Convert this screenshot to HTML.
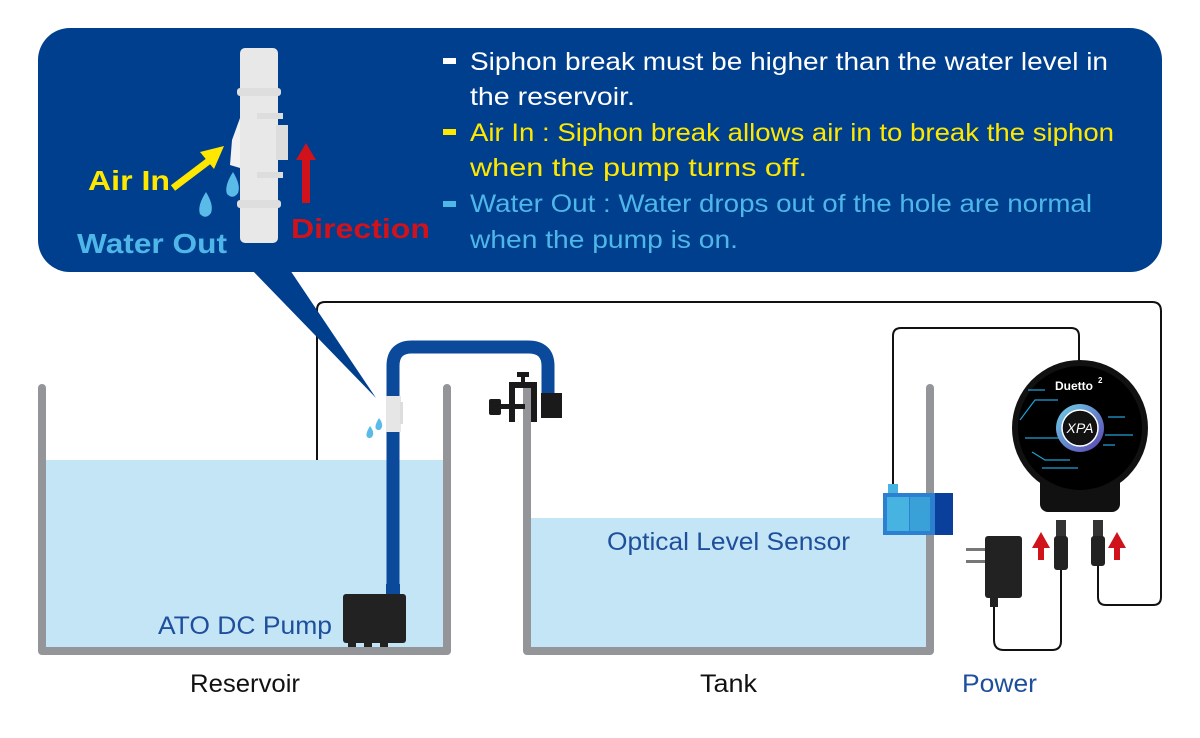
<!DOCTYPE html>
<html><head><meta charset="utf-8"><style>html,body{margin:0;padding:0;background:#fff}svg{display:block}text{font-family:"Liberation Sans",sans-serif}</style></head>
<body>
<svg width="1200" height="738" viewBox="0 0 1200 738" xmlns="http://www.w3.org/2000/svg">
<defs><linearGradient id="ring" x1="0" y1="0" x2="1" y2="1"><stop offset="0" stop-color="#6fd3e8"/><stop offset="1" stop-color="#5a3fb0"/></linearGradient></defs>
<!-- wires -->
<path d="M343,603 H325 Q317,603 317,595 V310 Q317,302 325,302 H1152 Q1161,302 1161,311 V597 Q1161,605 1153,605 H1106 Q1098,605 1098,597 V560" fill="none" stroke="#111" stroke-width="2"/>
<path d="M893,488 V336 Q893,328 901,328 H1071 Q1079,328 1079,336 V362" fill="none" stroke="#111" stroke-width="2"/>
<path d="M994,600 V640 Q994,650 1004,650 H1052 Q1061,650 1061,641 V568" fill="none" stroke="#111" stroke-width="2"/>
<!-- water -->
<rect x="46" y="460" width="397" height="188" fill="#c4e5f5"/>
<rect x="531" y="518" width="395" height="130" fill="#c4e5f5"/>
<!-- tank walls -->
<path d="M42,388 V651 H447 V388" fill="none" stroke="#939598" stroke-width="8" stroke-linecap="round" stroke-linejoin="round"/>
<path d="M527,388 V651 H930 V388" fill="none" stroke="#939598" stroke-width="8" stroke-linecap="round" stroke-linejoin="round"/>
<!-- hose -->
<path d="M393,592 V366 Q393,347 412,347 H528 Q548,347 548,366 V418" fill="none" stroke="#0b4a9b" stroke-width="13"/>
<rect x="386" y="584" width="14" height="12" fill="#0b4a9b"/>
<rect x="386" y="396" width="15" height="36" fill="#e6e6e6"/>
<rect x="400" y="402" width="3" height="22" fill="#ddd"/>
<path d="M370,426 q-5,8 -3,11 q4,3 6,-2 q1,-4 -3,-9z M379,418 q-5,8 -3,11 q4,3 6,-2 q1,-4 -3,-9z" fill="#5bbbe8"/>
<!-- clamp -->
<path d="M509,382 h28 v40 h-6 v-34 h-16 v34 h-6z" fill="#1a1a1a"/>
<rect x="517" y="372" width="12" height="5" fill="#1a1a1a"/><rect x="521" y="375" width="4" height="8" fill="#1a1a1a"/>
<rect x="489" y="399" width="12" height="16" rx="2" fill="#1a1a1a"/><rect x="500" y="404" width="25" height="5" fill="#1a1a1a"/>
<rect x="541" y="393" width="21" height="25" fill="#1a1a1a"/>
<!-- pump -->
<rect x="343" y="594" width="63" height="49" rx="3" fill="#222"/>
<rect x="348" y="643" width="8" height="4" fill="#222"/><rect x="364" y="643" width="8" height="4" fill="#222"/><rect x="380" y="643" width="8" height="4" fill="#222"/>
<!-- sensor -->
<rect x="935" y="493" width="18" height="42" fill="#0b3f9c"/>
<rect x="883" y="493" width="52" height="42" fill="#2d7fd0"/>
<rect x="887" y="497" width="22" height="34" fill="#46b3e0"/>
<rect x="910" y="497" width="20" height="34" fill="#3aa0d8"/>
<rect x="888" y="484" width="10" height="9" fill="#46b3e0"/>
<!-- controller -->
<rect x="1040" y="470" width="80" height="42" rx="8" fill="#111"/>
<circle cx="1080" cy="428" r="68" fill="#111"/>
<circle cx="1080" cy="428" r="62" fill="#000"/>
<g stroke="#1f9fd8" stroke-width="1.2" fill="none">
<path d="M1028,390 H1045 M1020,420 L1035,400 H1058 M1025,438 H1060 M1032,452 L1045,460 H1070 M1042,468 H1078 M1108,417 H1125 M1105,435 H1133 M1103,445 H1115"/>
</g>
<circle cx="1080" cy="428" r="24" fill="url(#ring)"/><circle cx="1080" cy="428" r="18" fill="#111" stroke="#fff" stroke-width="1.5"/>
<text x="1080" y="433" font-size="14" fill="#fff" text-anchor="middle" font-style="italic">XPA</text>
<text x="1055" y="390" font-size="12" font-weight="bold" fill="#fff">Duetto</text><text x="1098" y="383" font-size="8" fill="#fff" font-weight="bold">2</text>
<!-- adapter -->
<rect x="985" y="536" width="37" height="62" rx="3" fill="#222"/>
<rect x="966" y="548" width="19" height="3" fill="#777"/><rect x="966" y="560" width="19" height="3" fill="#777"/>
<rect x="990" y="597" width="8" height="10" fill="#222"/>
<rect x="1056" y="520" width="10" height="18" fill="#333"/><rect x="1054" y="536" width="14" height="34" rx="3" fill="#222"/>
<rect x="1093" y="520" width="10" height="18" fill="#333"/><rect x="1091" y="536" width="14" height="30" rx="3" fill="#222"/>
<path d="M1038,548 h-6 l9,-16 l9,16 h-6 v12 h-6z M1114,548 h-6 l9,-16 l9,16 h-6 v12 h-6z" fill="#d0121b"/>
<!-- bubble -->
<rect x="38" y="28" width="1124" height="244" rx="32" fill="#003e8e"/>
<path d="M252,270 L290,270 L376,398 Z" fill="#003e8e"/>
<!-- siphon piece -->
<rect x="240" y="48" width="38" height="195" rx="5" fill="#e8e8e8"/>
<rect x="237" y="88" width="44" height="8" rx="3" fill="#dedede"/>
<rect x="237" y="200" width="44" height="8" rx="3" fill="#dedede"/>
<rect x="257" y="113" width="26" height="6" fill="#ddd"/><rect x="257" y="172" width="26" height="6" fill="#ddd"/>
<rect x="276" y="125" width="12" height="35" fill="#ddd"/>
<path d="M240,118 L232,140 L230,165 L240,168 Z" fill="#f2f2f2"/>
<line x1="173" y1="188" x2="210" y2="160" stroke="#ffe800" stroke-width="7"/>
<path d="M200,152 L224,146 L214,169 Z" fill="#ffe800"/>
<path d="M233,172 q-9,14 -6,22 q6,6 11,-1 q3,-8 -5,-21z M206,192 q-9,14 -6,22 q6,6 11,-1 q3,-8 -5,-21z" fill="#5bbbe8"/>
<path d="M296,160 l10,-17 l10,17 h-6 v43 h-8 v-43z" fill="#d0121b"/>
<text x="88" y="190" font-size="28" font-weight="bold" fill="#ffe800" textLength="82" lengthAdjust="spacingAndGlyphs">Air In</text>
<text x="77" y="253" font-size="28" font-weight="bold" fill="#4fb7e8" textLength="150" lengthAdjust="spacingAndGlyphs">Water Out</text>
<text x="291" y="238" font-size="28" font-weight="bold" fill="#d0121b" textLength="139" lengthAdjust="spacingAndGlyphs">Direction</text>
<!-- bubble text -->
<rect x="443" y="58" width="13" height="6" fill="#fff"/>
<rect x="443" y="129" width="13" height="6" fill="#ffe800"/>
<rect x="443" y="201" width="13" height="6" fill="#4fb7e8"/>
<g font-size="25">
<text x="470" y="70" fill="#fff" textLength="638" lengthAdjust="spacingAndGlyphs">Siphon break must be higher than the water level in</text>
<text x="470" y="105" fill="#fff" textLength="165" lengthAdjust="spacingAndGlyphs">the reservoir.</text>
<text x="470" y="141" fill="#ffe800" textLength="644" lengthAdjust="spacingAndGlyphs">Air In : Siphon break allows air in to break the siphon</text>
<text x="470" y="176" fill="#ffe800" textLength="337" lengthAdjust="spacingAndGlyphs">when the pump turns off.</text>
<text x="470" y="212" fill="#4fb7e8" textLength="622" lengthAdjust="spacingAndGlyphs">Water Out : Water drops out of the hole are normal</text>
<text x="470" y="248" fill="#4fb7e8" textLength="268" lengthAdjust="spacingAndGlyphs">when the pump is on.</text>
</g>
<!-- labels -->
<text x="158" y="634" font-size="25" fill="#1e4f9c" textLength="174" lengthAdjust="spacingAndGlyphs">ATO DC Pump</text>
<text x="607" y="550" font-size="25" fill="#1e4f9c" textLength="243" lengthAdjust="spacingAndGlyphs">Optical Level Sensor</text>
<text x="190" y="692" font-size="25" fill="#111" textLength="110" lengthAdjust="spacingAndGlyphs">Reservoir</text>
<text x="700" y="692" font-size="25" fill="#111" textLength="57" lengthAdjust="spacingAndGlyphs">Tank</text>
<text x="962" y="692" font-size="25" fill="#1e4f9c" textLength="75" lengthAdjust="spacingAndGlyphs">Power</text>
</svg>
</body></html>
